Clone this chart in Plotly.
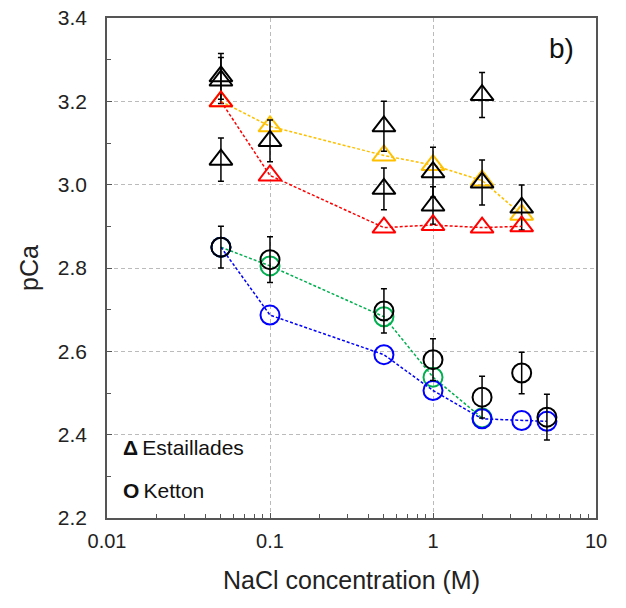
import plotly.graph_objects as go

# ---------------- data ----------------
# Estaillades (triangles)
est_black_x = [0.05, 0.05, 0.05, 0.1, 0.5, 0.5, 1, 1, 2, 2, 3.5]
est_black_y = [3.26, 3.25, 3.06, 3.105, 3.14, 2.99, 3.03, 2.95, 3.215, 3.005, 2.945]
est_black_err = [0.055, 0.055, 0.052, 0.05, 0.06, 0.05, 0.06, 0.045, 0.054, 0.054, 0.054]

est_yellow_x = [0.05, 0.1, 0.5, 1, 2, 3.5]
est_yellow_y = [3.20, 3.14, 3.07, 3.047, 3.01, 2.928]

est_red_x = [0.05, 0.1, 0.5, 1, 2, 3.5]
est_red_y = [3.20, 3.022, 2.897, 2.903, 2.897, 2.90]

# Ketton (circles)
ket_black_x = [0.05, 0.1, 0.5, 1, 2, 3.5, 5]
ket_black_y = [2.85, 2.82, 2.697, 2.58, 2.49, 2.548, 2.442]
ket_black_err = [0.05, 0.055, 0.053, 0.05, 0.05, 0.05, 0.055]

ket_green_x = [0.05, 0.1, 0.5, 1, 2]
ket_green_y = [2.85, 2.805, 2.683, 2.538, 2.44]

ket_blue_x = [0.05, 0.1, 0.5, 1, 2, 3.5, 5]
ket_blue_y = [2.85, 2.687, 2.592, 2.506, 2.438, 2.434, 2.432]

x_tickvals = [0.01, 0.1, 1, 10]
x_ticktext = ["0.01", "0.1", "1", "10"]

FONT = "Liberation Sans, Arial, sans-serif"

fig = go.Figure()

def colored(x, y, color, symbol, size):
    fig.add_trace(go.Scatter(
        x=x, y=y, mode="lines+markers",
        line=dict(color=color, width=1.5, dash="3px,2px"),
        marker=dict(symbol=symbol, size=size, color=color,
                    line=dict(color=color, width=2)),
        showlegend=False, hoverinfo="skip"))

def black(x, y, err, symbol, size):
    fig.add_trace(go.Scatter(
        x=x, y=y, mode="markers",
        marker=dict(symbol=symbol, size=size, color="black",
                    line=dict(color="black", width=2)),
        error_y=dict(type="data", array=err, visible=True,
                     color="black", thickness=1.5, width=3),
        showlegend=False, hoverinfo="skip"))

TRI = 20
CIR = 19
colored(est_yellow_x, est_yellow_y, "#FFC000", "triangle-up-open", TRI)
black(est_black_x, est_black_y, est_black_err, "triangle-up-open", TRI)
colored(est_red_x, est_red_y, "#FF0000", "triangle-up-open", TRI)

colored(ket_green_x, ket_green_y, "#00B050", "circle-open", CIR)
colored(ket_blue_x, ket_blue_y, "#0000FF", "circle-open", CIR)
black(ket_black_x, ket_black_y, ket_black_err, "circle-open", CIR)

minor_x = [m * 10 ** k for k in (-2, -1, 0) for m in range(2, 10)]

fig.update_xaxes(
    type="log", range=[-2, 1], automargin=False,
    tickmode="array", tickvals=x_tickvals, ticktext=x_ticktext,
    ticks="inside", ticklen=5, tickcolor="#555",
    showline=True, linecolor="#555", linewidth=1.5, mirror=True,
    showgrid=True, gridcolor="#BBBBBB", griddash="4px,3px", gridwidth=1,
    zeroline=False,
    minor=dict(tickmode="array", tickvals=minor_x, ticks="inside",
               ticklen=4, tickcolor="#555", showgrid=False),
    tickfont=dict(family=FONT, size=20, color="#222"),
    ticklabelstandoff=4,
    title=dict(text="NaCl concentration (M)",
               font=dict(family=FONT, size=25, color="#222"), standoff=21),
)
fig.update_yaxes(
    range=[2.2, 3.4], dtick=0.2, tick0=2.2, tickformat=".1f", automargin=False,
    ticks="inside", ticklen=5, tickcolor="#555",
    showline=True, linecolor="#555", linewidth=1.5, mirror=True,
    showgrid=True, gridcolor="#BBBBBB", griddash="4px,3px", gridwidth=1,
    zeroline=False,
    minor=dict(dtick=0.1, ticks="inside", ticklen=4, tickcolor="#555",
               showgrid=False),
    tickfont=dict(family=FONT, size=21, color="#222"),
    ticklabelstandoff=14,
    title=dict(text="pCa", font=dict(family=FONT, size=25, color="#222"),
               standoff=12),
)

fig.add_shape(type="rect", xref="paper", yref="y", x0=0.003, x1=0.305,
              y0=2.21, y1=2.425, fillcolor="white", line=dict(width=0),
              layer="between")

fig.add_annotation(xref="paper", yref="paper", x=0.028, y=0.142,
                   xanchor="left", yanchor="middle", showarrow=False,
                   text="<b>Δ</b>\u2009Estaillades",
                   font=dict(family=FONT, size=21, color="#111"))
fig.add_annotation(xref="paper", yref="paper", x=0.028, y=0.056,
                   xanchor="left", yanchor="middle", showarrow=False,
                   text="<b>O</b>\u2009Ketton",
                   font=dict(family=FONT, size=21, color="#111"))
fig.add_annotation(xref="paper", yref="paper", x=0.93, y=0.94,
                   xanchor="center", yanchor="middle", showarrow=False,
                   text="b)", font=dict(family=FONT, size=28, color="#111"))

fig.update_layout(
    width=626, height=608,
    margin=dict(l=107, r=30, t=18, b=90),
    paper_bgcolor="white", plot_bgcolor="white",
    showlegend=False,
)

fig.write_html("out.html",
               config={"displayModeBar": False},
               post_script="document.body.style.margin='0';"
                           "document.body.style.overflow='hidden';")
